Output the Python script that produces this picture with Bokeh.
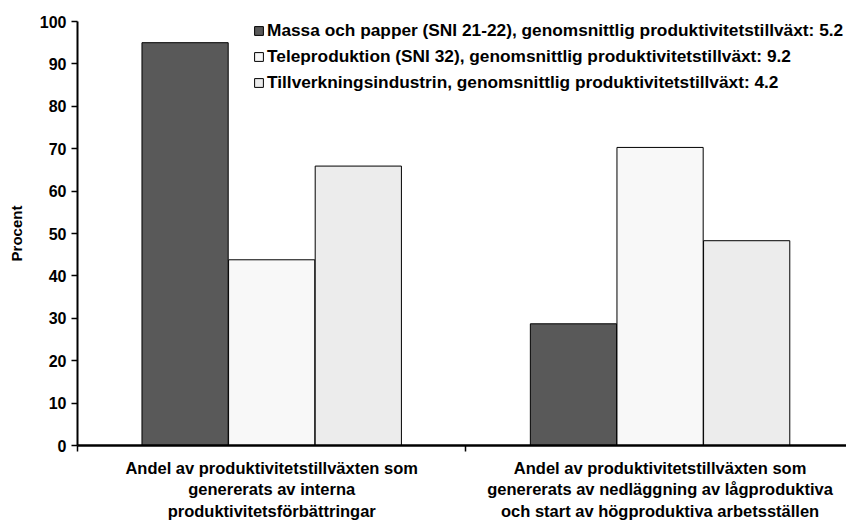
from bokeh.plotting import figure
from bokeh.models import Range1d, FixedTicker, LinearAxis, Legend, LegendItem, ColumnDataSource
from bokeh.embed import file_html
from bokeh.resources import INLINE

categories = [
    "Andel av produktivitetstillväxten som\ngenererats av interna\nproduktivitetsförbättringar",
    "Andel av produktivitetstillväxten som\ngenererats av nedläggning av lågproduktiva\noch start av högproduktiva arbetsställen",
]
series_names = [
    "Massa och papper (SNI 21-22), genomsnittlig produktivitetstillväxt: 5.2",
    "Teleproduktion (SNI 32), genomsnittlig produktivitetstillväxt: 9.2",
    "Tillverkningsindustrin, genomsnittlig produktivitetstillväxt: 4.2",
]
massa = [95.0, 28.7]
tele = [43.8, 70.3]
tillv = [65.9, 48.3]
y_ticks = [0, 10, 20, 30, 40, 50, 60, 70, 80, 90, 100]

colors = ["#595959", "#f8f8f8", "#ececec"]
FONT = "Liberation Sans"

p = figure(width=846, height=522, output_backend="svg", toolbar_location=None,
           x_range=Range1d(0, 1.98), y_range=Range1d(0, 100),
           min_border_left=77, min_border_right=0, min_border_top=21, min_border_bottom=76)
p.outline_line_color = None
p.xgrid.grid_line_color = None
p.ygrid.grid_line_color = None
p.background_fill_color = "white"

offsets = [-0.223, 0.0, 0.223]
renderers = []
for vals, off, col in zip([massa, tele, tillv], offsets, colors):
    src = ColumnDataSource(dict(x=[i + 0.5 + off for i in range(len(categories))], top=vals))
    r = p.vbar(x="x", top="top", width=0.222, source=src, fill_color=col,
               line_color="black", line_width=1)
    renderers.append(r)

# y axis
p.yaxis.ticker = FixedTicker(ticks=y_ticks)
p.yaxis.axis_label = "Procent"
p.yaxis.axis_label_text_font = FONT
p.yaxis.axis_label_text_font_style = "bold"
p.yaxis.axis_label_text_font_size = "15px"
p.yaxis.axis_label_text_color = "black"
p.yaxis.axis_label_standoff = 12
p.yaxis.major_label_text_font = FONT
p.yaxis.major_label_text_font_style = "bold"
p.yaxis.major_label_text_font_size = "16px"
p.yaxis.major_label_text_color = "black"
p.yaxis.major_tick_in = 0
p.yaxis.major_tick_out = 6
p.yaxis.minor_tick_line_color = None
p.yaxis.axis_line_width = 2
p.yaxis.major_tick_line_width = 1.5

# x axis: tick marks at category boundaries
p.xaxis.ticker = FixedTicker(ticks=[0, 1, 2])
p.xaxis.major_label_overrides = {0: " ", 1: " ", 2: " "}
p.xaxis.major_label_text_font_size = "1px"
p.xaxis.major_label_standoff = 0
p.xaxis.major_tick_in = 0
p.xaxis.major_tick_out = 6
p.xaxis.minor_tick_line_color = None
p.xaxis.axis_line_width = 2.5
p.xaxis.major_tick_line_width = 1.5

# second axis: category labels at group centers
centers = [i + 0.5 for i in range(len(categories))]
cat_axis = LinearAxis(ticker=FixedTicker(ticks=centers),
                      major_label_overrides={c: t for c, t in zip(centers, categories)})
cat_axis.axis_line_color = None
cat_axis.major_tick_line_color = None
cat_axis.minor_tick_line_color = None
cat_axis.major_tick_out = 0
cat_axis.major_tick_in = 0
cat_axis.major_label_standoff = 3
cat_axis.major_label_text_font = FONT
cat_axis.major_label_text_font_style = "bold"
cat_axis.major_label_text_font_size = "16.5px"
cat_axis.major_label_text_color = "black"
cat_axis.major_label_text_line_height = 1.2
cat_axis.major_label_text_align = "center"
p.add_layout(cat_axis, "below")

legend = Legend(items=[LegendItem(label=n, renderers=[r]) for n, r in zip(series_names, renderers)],
                location=(176, 352), orientation="vertical")
legend.border_line_color = None
legend.background_fill_alpha = 0
legend.padding = 0
legend.margin = 0
legend.glyph_width = 11
legend.glyph_height = 11
legend.label_height = 20
legend.spacing = 5
legend.label_standoff = 3
legend.label_text_font = FONT
legend.label_text_font_style = "bold"
legend.label_text_font_size = "17.3px"
legend.label_text_color = "black"
p.add_layout(legend)

open("out.html", "w").write(file_html(p, INLINE))
